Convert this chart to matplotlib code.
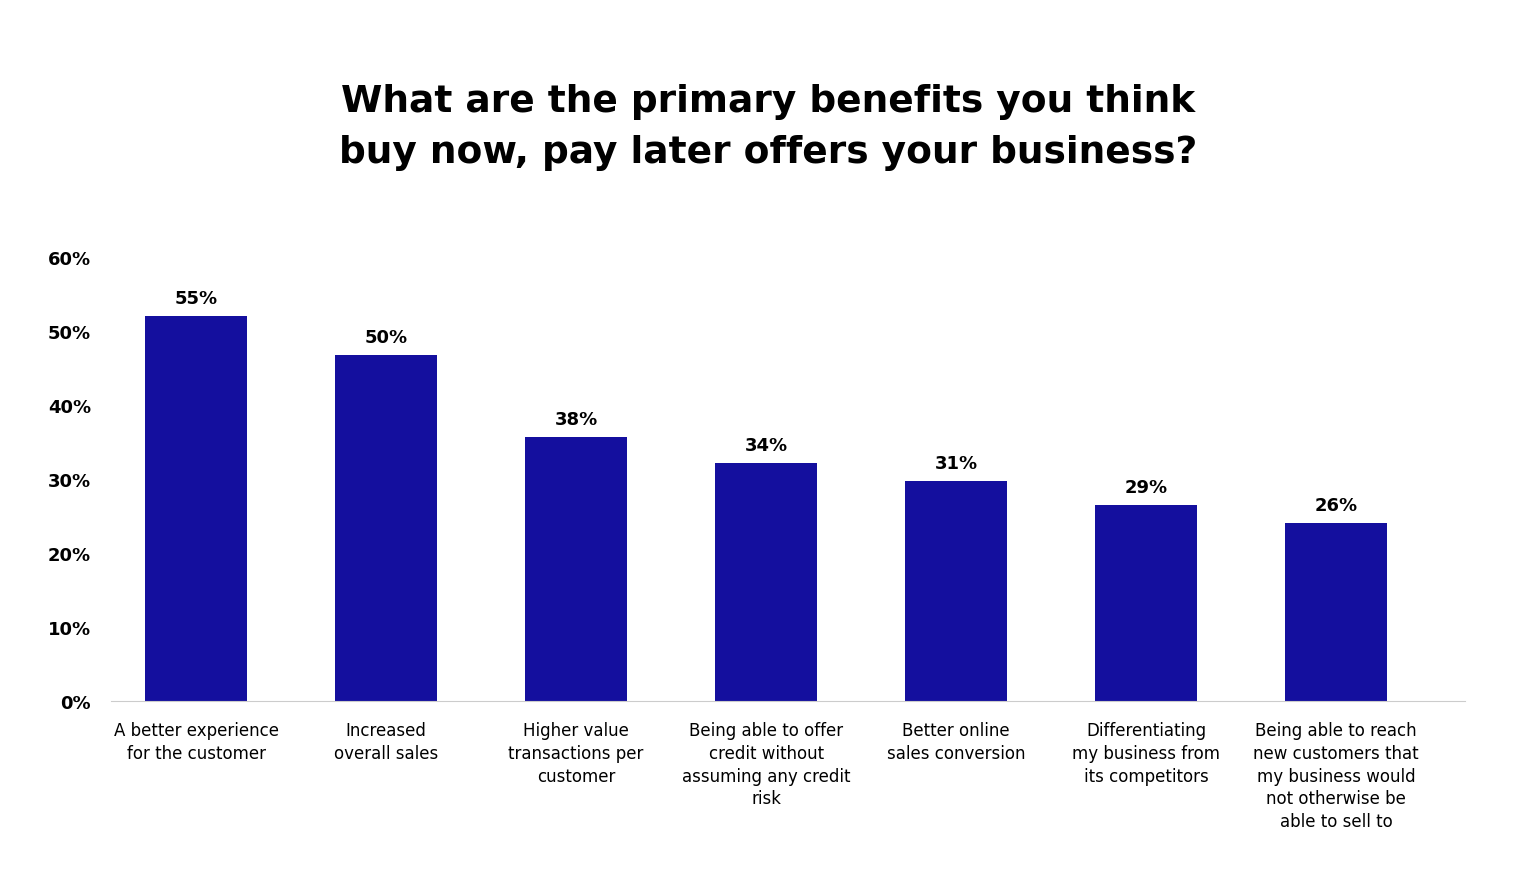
import matplotlib.pyplot as plt
import numpy as np

categories = [
    "A better experience\nfor the customer",
    "Increased\noverall sales",
    "Higher value\ntransactions per\ncustomer",
    "Being able to offer\ncredit without\nassuming any credit\nrisk",
    "Better online\nsales conversion",
    "Differentiating\nmy business from\nits competitors",
    "Being able to reach\nnew customers that\nmy business would\nnot otherwise be\nable to sell to",
]
# bar heights as drawn in the picture, and the labels printed above them
bar_heights = [52.0, 46.8, 35.7, 32.2, 29.7, 26.5, 24.1]
value_labels = ["55%", "50%", "38%", "34%", "31%", "29%", "26%"]
y_ticks = [0, 10, 20, 30, 40, 50, 60]

fig = plt.figure(figsize=(15.36, 8.79), dpi=100)
ax = fig.add_axes([0.072, 0.201, 0.882, 0.5055])
x = np.arange(len(categories))
ax.bar(x, bar_heights, width=0.54, color="#140F9E")
for xi, h, lab in zip(x, bar_heights, value_labels):
    ax.text(xi, h + 1.2, lab, ha="center", va="bottom", fontsize=13, fontweight="bold")

ax.set_xlim(-0.45, 6.68)
ax.set_ylim(0, 60)
ax.set_yticks(y_ticks)
ax.set_yticklabels([f"{t}%" for t in y_ticks], fontsize=13, fontweight="bold")
ax.set_xticks(x)
ax.set_xticklabels(categories, fontsize=12, linespacing=1.35, va="top")
ax.tick_params(length=0, pad=14)
for s in ["top", "right", "left"]:
    ax.spines[s].set_visible(False)
ax.spines["bottom"].set_color("#cccccc")

fig.text(0.5, 0.855, "What are the primary benefits you think\nbuy now, pay later offers your business?",
         ha="center", va="center", fontsize=27, fontweight="heavy", linespacing=1.55)
fig.savefig("out.png", dpi=100)
